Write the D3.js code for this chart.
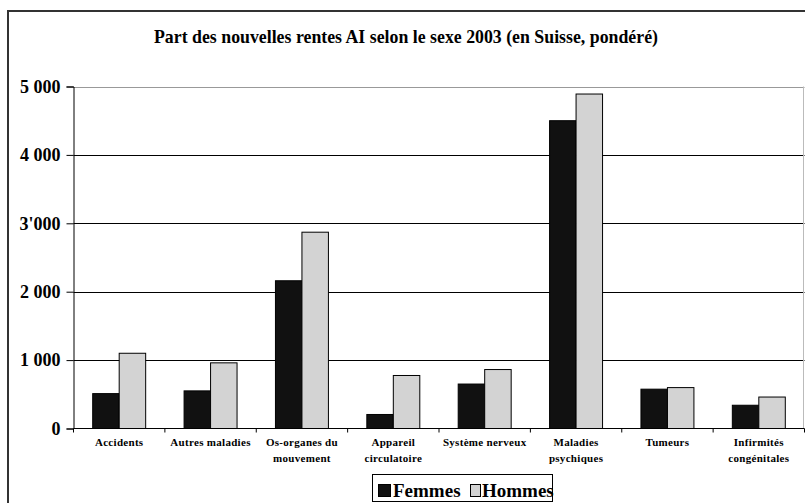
<!DOCTYPE html>
<html>
<head>
<meta charset="utf-8">
<script src="https://cdn.jsdelivr.net/npm/d3@7"></script>
<style>
	body { margin:0; background:#fff; }
</style>
</head>
<body>
<div id="chart"></div>
<script>
// données
var categories = [
	["Accidents"],
	["Autres maladies"],
	["Os-organes du", "mouvement"],
	["Appareil", "circulatoire"],
	["Système nerveux"],
	["Maladies", "psychiques"],
	["Tumeurs"],
	["Infirmités", "congénitales"]
];
var series = ["Femmes", "Hommes"];
var femmes = [510, 550, 2160, 205, 650, 4500, 575, 340];
var hommes = [1100, 960, 2870, 775, 862, 4890, 598, 460];
var tickValues = [0, 1000, 2000, 3000, 4000, 5000];
var tickLabels = ["0", "1 000", "2 000", "3'000", "4 000", "5 000"];
var colors = ["#111111", "#d3d3d3"];

var FONT = "'Liberation Serif', 'Times New Roman', 'DejaVu Serif', serif";
var W = 805, H = 503;
var plot = { left:73.5, right:804.5, top:86.5, bottom:428.5 };

var svg = d3.select("#chart").append("svg")
	.attr("width", W)
	.attr("height", H)
	.attr("font-family", FONT)
	.attr("font-weight", "bold");

// cadre extérieur
svg.append("rect")
	.attr("x", 8).attr("y", 11)
	.attr("width", 820).attr("height", 520)
	.attr("fill", "none")
	.attr("stroke", "#333")
	.attr("stroke-width", 2);

// titre
svg.append("text")
	.attr("x", 406).attr("y", 43)
	.attr("text-anchor", "middle")
	.attr("font-size", 19)
	.attr("textLength", 504)
	.attr("lengthAdjust", "spacingAndGlyphs")
	.text("Part des nouvelles rentes AI selon le sexe 2003 (en Suisse, pondéré)");

// échelles
var x0 = d3.scaleBand()
	.domain(d3.range(categories.length))
	.range([plot.left, plot.right])
	.padding(0);
var x1 = d3.scaleBand()
	.domain(series)
	.range([0, x0.bandwidth()])
	.paddingInner(0)
	.paddingOuter(0.725);
var y = d3.scaleLinear()
	.domain([0, 5000])
	.range([plot.bottom, plot.top]);

// grille
svg.append("g").selectAll("line")
	.data(tickValues.filter(function(d){ return d > 0; }))
	.enter().append("line")
	.attr("x1", plot.left).attr("x2", plot.right)
	.attr("y1", function(d){ return Math.round(y(d)) + 0.5; })
	.attr("y2", function(d){ return Math.round(y(d)) + 0.5; })
	.attr("stroke", function(d){ return d === 5000 ? "#999" : "#000"; })
	.attr("stroke-width", 1);

// bord droit de la zone du graphique
svg.append("line")
	.attr("x1", plot.right - 1).attr("x2", plot.right - 1)
	.attr("y1", y(5000)).attr("y2", y(0))
	.attr("stroke", "#bbb");

// barres
var rows = categories.map(function(c, i){ return [femmes[i], hommes[i]]; });
var groups = svg.append("g").selectAll("g")
	.data(rows)
	.enter().append("g")
	.attr("transform", function(d, i){ return "translate(" + x0(i) + ",0)"; });
groups.selectAll("rect")
	.data(function(d){ return d.map(function(v, j){ return { s: series[j], v: v, j: j }; }); })
	.enter().append("rect")
	.attr("x", function(d){ return x1(d.s); })
	.attr("y", function(d){ return y(d.v); })
	.attr("width", x1.bandwidth())
	.attr("height", function(d){ return y(0) - y(d.v); })
	.attr("fill", function(d){ return colors[d.j]; })
	.attr("stroke", "#000")
	.attr("stroke-width", 1);

// axe Y
var yAxis = d3.axisLeft(y)
	.tickValues(tickValues)
	.tickSize(7)
	.tickPadding(6)
	.tickFormat(function(d, i){ return tickLabels[i]; });
var gy = svg.append("g")
	.attr("transform", "translate(" + plot.left + ",0)")
	.call(yAxis)
	.attr("font-family", FONT)
	.attr("font-size", 18);
gy.select(".domain").attr("stroke", "#000");
gy.selectAll("text").attr("fill", "#000");

// axe X
var bounds = d3.range(categories.length + 1).map(function(i){ return plot.left + i * x0.bandwidth(); });
svg.append("line")
	.attr("x1", plot.left).attr("x2", plot.right)
	.attr("y1", y(0)).attr("y2", y(0))
	.attr("stroke", "#000");
svg.append("g").selectAll("line")
	.data(bounds)
	.enter().append("line")
	.attr("x1", function(d){ return d; }).attr("x2", function(d){ return d; })
	.attr("y1", y(0)).attr("y2", y(0) + 4)
	.attr("stroke", "#000");

var labels = svg.append("g").selectAll("text")
	.data(categories)
	.enter().append("text")
	.attr("text-anchor", "middle")
	.attr("font-size", 11)
	.attr("letter-spacing", 0.3)
	.attr("x", function(d, i){ return x0(i) + x0.bandwidth() / 2; })
	.attr("y", 446);
labels.selectAll("tspan")
	.data(function(d){ return d; })
	.enter().append("tspan")
	.attr("x", function(){ return d3.select(this.parentNode).attr("x"); })
	.attr("dy", function(d, i){ return i === 0 ? 0 : 16; })
	.text(function(d){ return d; });

// légende
var leg = svg.append("g");
leg.append("rect")
	.attr("x", 372.5).attr("y", 474.5)
	.attr("width", 180).attr("height", 27)
	.attr("fill", "#fff").attr("stroke", "#000");
var legX = [378, 470];
var legItems = leg.selectAll("g.item")
	.data(series)
	.enter().append("g")
	.attr("class", "item")
	.attr("transform", function(d, i){ return "translate(" + legX[i] + ",0)"; });
legItems.append("rect")
	.attr("x", 0.5).attr("y", 484.5)
	.attr("width", function(d, i){ return i === 0 ? 12 : 10; })
	.attr("height", 12)
	.attr("fill", function(d, i){ return colors[i]; })
	.attr("stroke", "#000");
legItems.append("text")
	.attr("x", function(d, i){ return i === 0 ? 15 : 12; })
	.attr("y", 497)
	.attr("font-size", 19)
	.text(function(d){ return d; });
</script>
</body>
</html>
